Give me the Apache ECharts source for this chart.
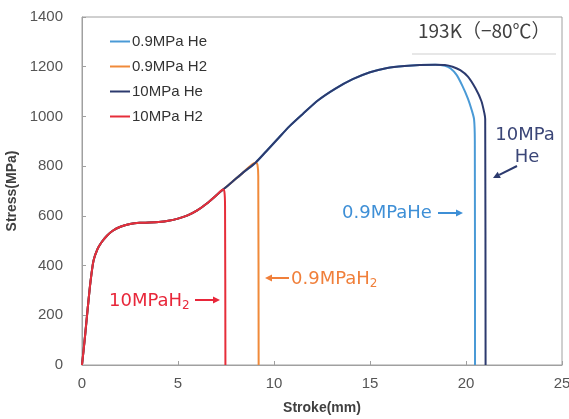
<!DOCTYPE html>
<html>
<head>
<meta charset="utf-8">
<script src="https://cdn.jsdelivr.net/npm/echarts@6/dist/echarts.min.js"></script>
<style>html,body{margin:0;padding:0;background:#fff}#c{width:569px;height:419px}</style>
</head>
<body>
<div id="c"></div>
<script>
// ---- data (stroke mm, stress MPa) ----
var seriesNames = ['0.9MPa He', '0.9MPa H2', '10MPa He', '10MPa H2'];
var xTicks = [0, 5, 10, 15, 20, 25];
var yTicks = [0, 200, 400, 600, 800, 1000, 1200, 1400];

var he09 = [[0,0],[0.15,110],[0.3,230],[0.45,340],[0.6,420],[0.8,465],[1.0,492],[1.3,520],[1.6,540],[2.0,556],[2.5,567],[3.0,572],[3.5,573],[4.0,575],[4.5,580],[5.0,589],[5.5,602],[6.0,622],[6.5,650],[7.0,683],[7.35,706],[7.8,735],[8.4,775],[9.05,815],[9.6,860],[10.2,910],[10.8,960],[11.5,1010],[12.3,1065],[13.2,1112],[14.1,1150],[15.0,1178],[15.9,1195],[16.8,1203],[17.6,1207],[18.4,1208],[18.9,1204],[19.2,1193],[19.5,1168],[19.8,1125],[20.1,1072],[20.3,1025],[20.42,988],[20.46,900],[20.47,0]];
var h209 = [[0,0],[0.15,110],[0.3,230],[0.45,340],[0.6,420],[0.8,465],[1.0,492],[1.3,520],[1.6,540],[2.0,556],[2.5,567],[3.0,572],[3.5,573],[4.0,575],[4.5,580],[5.0,589],[5.5,602],[6.0,622],[6.5,650],[7.0,683],[7.35,706],[7.8,735],[8.4,775],[9.05,815],[9.14,805],[9.18,760],[9.2,0]];
var he10 = [[0,0],[0.15,110],[0.3,230],[0.45,340],[0.6,420],[0.8,465],[1.0,492],[1.3,520],[1.6,540],[2.0,556],[2.5,567],[3.0,572],[3.5,573],[4.0,575],[4.5,580],[5.0,589],[5.5,602],[6.0,622],[6.5,650],[7.0,683],[7.35,706],[7.8,735],[8.4,775],[9.05,815],[9.6,860],[10.2,910],[10.8,960],[11.5,1010],[12.3,1065],[13.2,1112],[14.1,1150],[15.0,1178],[15.9,1195],[16.8,1203],[17.6,1207],[18.4,1208],[18.9,1207],[19.3,1200],[19.7,1186],[20.1,1160],[20.5,1112],[20.8,1062],[20.96,1012],[21.0,990],[21.02,0]];
var h210 = [[0,0],[0.15,110],[0.3,230],[0.45,340],[0.6,420],[0.8,465],[1.0,492],[1.3,520],[1.6,540],[2.0,556],[2.5,567],[3.0,572],[3.5,573],[4.0,575],[4.5,580],[5.0,589],[5.5,602],[6.0,622],[6.5,650],[7.0,683],[7.35,706],[7.42,695],[7.45,640],[7.47,0]];

var colors = ['#4a9ad6', '#f08a3a', '#2c3a6e', '#e62e3a'];

function arrow(x1, y1, x2, y2, color) {
  var ang = Math.atan2(y2 - y1, x2 - x1);
  var L = 7, W = 3.5;
  var bx = x2 - L * Math.cos(ang), by = y2 - L * Math.sin(ang);
  var px = -Math.sin(ang) * W, py = Math.cos(ang) * W;
  return [
    {type: 'line', shape: {x1: x1, y1: y1, x2: bx, y2: by}, style: {stroke: color, lineWidth: 2}},
    {type: 'polygon', shape: {points: [[x2, y2], [bx + px, by + py], [bx - px, by - py]]}, style: {fill: color}}
  ];
}

var annFont = '"DejaVu Sans", Verdana, sans-serif';
var subRich = function (c) {
  return {sub: {fontSize: 12, fill: c, fontFamily: annFont, padding: [9, 0, 0, 0]}, m: {fontSize: 18, fill: c, fontFamily: annFont}};
};

var graphics = [
  {type: 'text', left: 418, top: 21, style: {text: '193K（−80℃）', font: '19px "Noto Sans CJK JP"', fill: '#404040'}},
  {type: 'line', shape: {x1: 412, y1: 54, x2: 556, y2: 54}, style: {stroke: '#cfcfcf', lineWidth: 1.2}},
  {type: 'text', x: 342, y: 213, style: {text: '0.9MPaHe', font: '18px ' + annFont, fill: '#3e8fd6', verticalAlign: 'middle'}},
  {type: 'text', x: 525, y: 135, style: {text: '10MPa', font: '18px ' + annFont, fill: '#3b4677', align: 'center', verticalAlign: 'middle'}},
  {type: 'text', x: 527, y: 157, style: {text: 'He', font: '18px ' + annFont, fill: '#3b4677', align: 'center', verticalAlign: 'middle'}},
  {type: 'text', x: 109, y: 301, style: {text: '{m|10MPaH}{sub|2}', rich: subRich('#e8273a'), verticalAlign: 'middle'}},
  {type: 'text', x: 291, y: 279, style: {text: '{m|0.9MPaH}{sub|2}', rich: subRich('#f07f3a'), verticalAlign: 'middle'}}
];
graphics = graphics
  .concat(arrow(438, 213, 463, 213, '#3e8fd6'))
  .concat(arrow(517, 166, 493, 178, '#2c3a6e'))
  .concat(arrow(195, 300, 220, 300, '#e8273a'))
  .concat(arrow(289, 278, 265, 278, '#f07f3a'));

var chart = echarts.init(document.getElementById('c'), null, {renderer: 'canvas'});
var datasets = [he09, h209, he10, h210];
chart.setOption({
  animation: false,
  backgroundColor: '#fff',
  grid: {left: 82, right: 7, top: 17, bottom: 54, show: true, borderColor: '#a0a0a0', borderWidth: 1, containLabel: false, outerBoundsMode: 'none'},
  legend: {
    left: 110, top: 34, padding: 0, orient: 'vertical', itemWidth: 20, itemHeight: 2, itemGap: 10, icon: 'rect',
    textStyle: {fontSize: 15, color: '#333', fontFamily: 'Arial, "Liberation Sans", sans-serif', padding: [0, 0, 0, -3]},
    data: seriesNames
  },
  xAxis: {
    type: 'value', min: xTicks[0], max: xTicks[xTicks.length - 1], interval: 5,
    name: 'Stroke(mm)', nameLocation: 'middle', nameGap: 36,
    nameTextStyle: {fontSize: 14, fontWeight: 'bold', color: '#404040', fontFamily: 'Arial, "Liberation Sans", sans-serif'},
    axisLine: {lineStyle: {color: '#a0a0a0'}},
    axisTick: {inside: true, length: 4, lineStyle: {color: '#a0a0a0'}},
    splitLine: {show: false},
    axisLabel: {fontSize: 15, color: '#555', margin: 11, fontFamily: 'Arial, "Liberation Sans", sans-serif', formatter: function (v) { return String(v); }}
  },
  yAxis: {
    type: 'value', min: yTicks[0], max: yTicks[yTicks.length - 1], interval: 200,
    name: 'Stress(MPa)', nameLocation: 'middle', nameGap: 62,
    nameTextStyle: {fontSize: 14, fontWeight: 'bold', color: '#404040', fontFamily: 'Arial, "Liberation Sans", sans-serif'},
    axisLine: {show: true, lineStyle: {color: '#a0a0a0'}},
    axisTick: {show: true, inside: true, length: 4, lineStyle: {color: '#a0a0a0'}},
    splitLine: {show: false},
    axisLabel: {fontSize: 15, color: '#555', margin: 19, fontFamily: 'Arial, "Liberation Sans", sans-serif', formatter: function (v) { return String(v); }}
  },
  series: datasets.map(function (d, i) {
    return {
      name: seriesNames[i], type: 'line', data: d, symbol: 'none', smooth: 0.25,
      lineStyle: {width: 2, color: colors[i]}, itemStyle: {color: colors[i]}, z: 2 + i
    };
  }),
  graphic: graphics
});
</script>
</body>
</html>
